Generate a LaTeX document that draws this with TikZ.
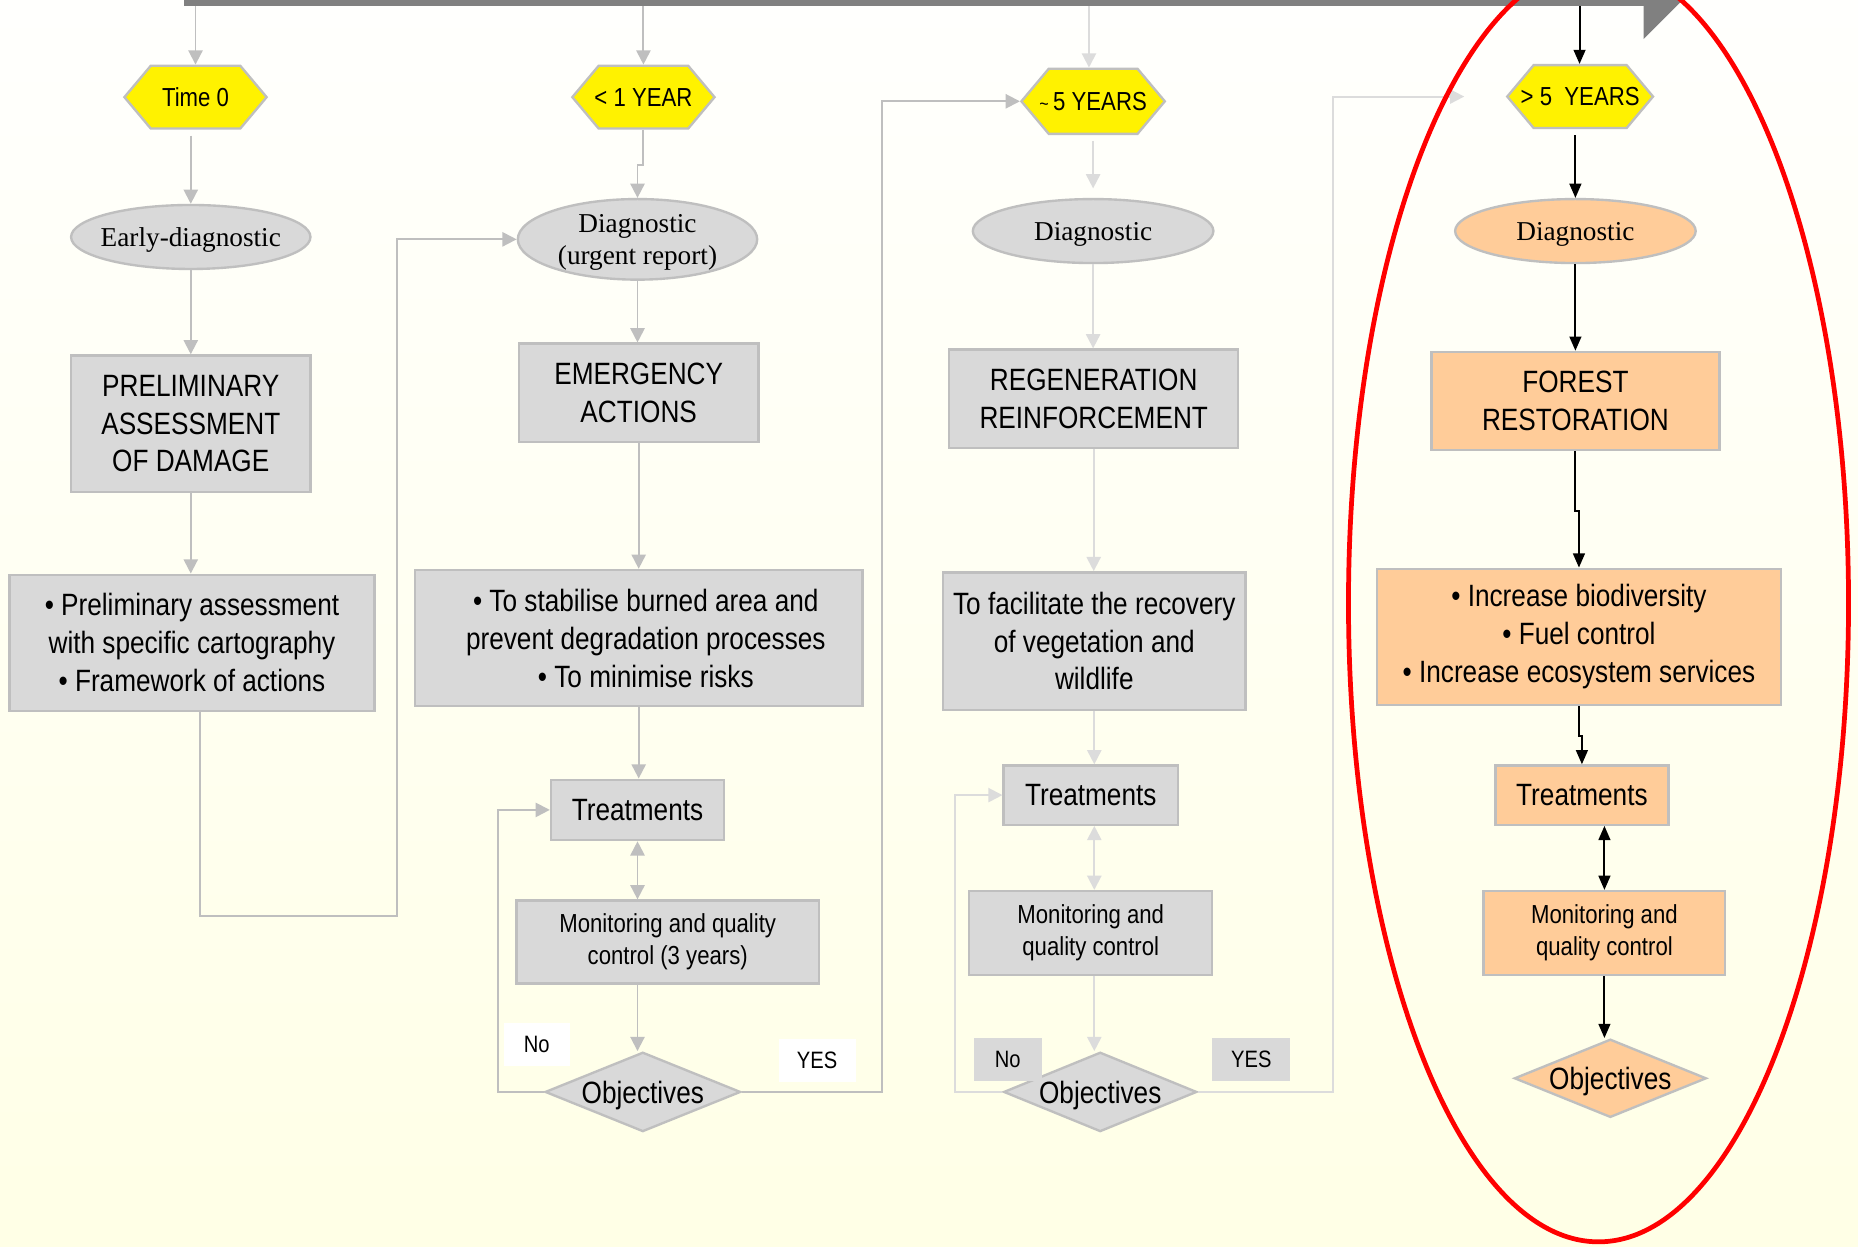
\documentclass[tikz,border=0pt]{standalone}
\usepackage{fontspec}
\setmainfont{Liberation Sans}[FakeStretch=0.85]
\newfontfamily\serifc{Liberation Serif}
\usetikzlibrary{shapes.geometric,shapes.symbols,arrows.meta}
\definecolor{boxgray}{HTML}{D9D9D9}
\definecolor{edgegray}{HTML}{BFBFBF}
\definecolor{lightline}{HTML}{DCDCDC}
\definecolor{peach}{HTML}{FFCC99}
\definecolor{bgbottom}{RGB}{255,255,230}
\definecolor{bgtop}{RGB}{255,255,253}
\definecolor{bartop}{HTML}{808080}
\tikzset{gtip/.tip={Triangle[width=6pt,length=6pt]}, btip/.tip={Triangle[width=5pt,length=6pt]}}
\newcommand{\hxt}[1]{\makebox[0pt]{#1}}
\begin{document}
\begin{tikzpicture}[x=0.5pt,y=-0.5pt,
 nodebase/.style={draw=edgegray, line width=1pt, inner sep=0pt, align=center, text=black},
 grayfill/.style={fill=boxgray},
 peachfill/.style={fill=peach},
 hexa/.style={nodebase, shape=signal, signal to=west and east, signal pointer angle=100, fill=yellow, font=\fontsize{11}{13}\selectfont},
 oval/.style={nodebase, ellipse, inner xsep=-4pt, text depth=0pt, font=\serifc\fontsize{11.5}{13.5}\selectfont},
 bigbox/.style={nodebase, rectangle, font=\fontsize{13}{16}\selectfont},
 smallbox/.style={nodebase, rectangle, font=\fontsize{11}{13.5}\selectfont},
 decision/.style={nodebase, diamond, aspect=2.4, text depth=0pt, font=\fontsize{13}{16}\selectfont},
 lbl/.style={rectangle, inner sep=0pt, align=center, font=\fontsize{10}{12}\selectfont},
 garr/.style={draw=edgegray, line width=0.8pt, -gtip},
 larr/.style={draw=lightline, line width=0.8pt, -gtip},
 barr/.style={draw=black, line width=0.8pt, -btip},
]
\useasboundingbox (0,0) rectangle (1568,1052);
\begin{scope}
\clip (0,0) rectangle (1568,1052);
\shade[top color=bgtop, bottom color=bgbottom] (0,0) rectangle (1568,1052);

% top time bar
\fill[bartop] (155,0) rectangle (1387,5);
\fill[bartop] (1387,0) -- (1387,33) -- (1420,0) -- cycle;
\coordinate (tb1) at (165,5);
\coordinate (tb2) at (543,5);
\coordinate (tb3) at (919,5);
\coordinate (tb4) at (1333,5);

% column 1
\node[hexa, minimum width=60pt, minimum height=26.5pt] (h1) at (165,82) {\hxt{Time 0}};
\node[oval, grayfill, minimum width=101pt, minimum height=27pt] (e1) at (161,200) {Early-diagnostic};
\node[bigbox, grayfill, minimum width=101pt, minimum height=57.5pt] (b1) at (161,357.5) {PRELIMINARY\\ASSESSMENT\\OF DAMAGE};
\node[bigbox, grayfill, minimum width=154pt, minimum height=57.5pt] (c1) at (162,542.5) {• Preliminary assessment\\ with specific cartography\\• Framework of actions};

% column 2
\node[hexa, minimum width=60pt, minimum height=26.5pt] (h2) at (543,82) {\hxt{< 1 YEAR}};
\node[oval, grayfill, minimum width=101pt, minimum height=34pt] (e2) at (538,202) {Diagnostic\\(urgent report)};
\node[bigbox, grayfill, minimum width=101pt, minimum height=41.5pt] (b2) at (539,331.5) {EMERGENCY\\ACTIONS};
\node[bigbox, grayfill, minimum width=189pt, minimum height=57.5pt] (c2) at (539,538.5) {\hspace*{6pt}• To stabilise burned area and\\\hspace*{6pt}prevent degradation processes\\\hspace*{6pt}• To minimise risks};
\node[bigbox, grayfill, minimum width=73pt, minimum height=25.5pt] (t2) at (538,683.5) {Treatments};
\node[smallbox, grayfill, minimum width=127.5pt, minimum height=35pt] (m2) at (563.5,795) {Monitoring and quality\\control (3 years)};
\node[decision, grayfill, minimum width=82.5pt, minimum height=33.5pt] (d2) at (542.5,921.5) {Objectives};
\node[lbl, fill=white, minimum width=28pt, minimum height=18.5pt] (no2) at (453,881.5) {No};
\node[lbl, fill=white, minimum width=32.5pt, minimum height=18pt] (yes2) at (689.5,895) {YES};

% column 3
\node[hexa, minimum width=60.5pt, minimum height=27.5pt] (h3) at (922.5,85.5) {\hxt{{\fontsize{8}{8}\selectfont\textasciitilde}\,5 YEARS}};
\node[oval, grayfill, minimum width=101.5pt, minimum height=27pt] (e3) at (922.5,195) {Diagnostic};
\node[bigbox, grayfill, minimum width=122pt, minimum height=41.5pt] (b3) at (923,336.5) {REGENERATION\\REINFORCEMENT};
\node[bigbox, grayfill, minimum width=127.5pt, minimum height=58pt] (c3) at (923.5,541) {To facilitate the recovery\\of vegetation and\\wildlife};
\node[bigbox, grayfill, minimum width=73.5pt, minimum height=25pt] (t3) at (920.5,671) {Treatments};
\node[smallbox, grayfill, minimum width=102.5pt, minimum height=35.5pt] (m3) at (920.5,787.5) {Monitoring and\\quality control};
\node[decision, grayfill, minimum width=81.5pt, minimum height=33.5pt] (d3) at (928.5,921.5) {Objectives};
\node[lbl, fill=boxgray, minimum width=28.5pt, minimum height=18pt] (no3) at (850.5,894) {No};
\node[lbl, fill=boxgray, minimum width=33pt, minimum height=18pt] (yes3) at (1056,894) {YES};

% column 4
\node[hexa, minimum width=61.5pt, minimum height=26.5pt] (h4) at (1333.5,81.5) {\hxt{> 5\ \ YEARS}};
\node[oval, peachfill, minimum width=101.5pt, minimum height=27pt] (e4) at (1329.5,195) {Diagnostic};
\node[bigbox, peachfill, minimum width=121.5pt, minimum height=41.5pt] (b4) at (1329.5,338.5) {FOREST\\RESTORATION};
\node[bigbox, peachfill, minimum width=170.5pt, minimum height=57.5pt] (c4) at (1332.5,537.5) {• Increase biodiversity\\• Fuel control\\• Increase ecosystem services};
\node[bigbox, peachfill, minimum width=73pt, minimum height=25pt] (t4) at (1335,671) {Treatments};
\node[smallbox, peachfill, minimum width=102pt, minimum height=35.5pt] (m4) at (1354,787.5) {Monitoring and\\quality control};
\node[decision, peachfill, minimum width=81pt, minimum height=33pt] (d4) at (1359,910) {Objectives};

% connectors column 1
\draw[garr] (tb1) -- (tb1 |- h1.north);
\draw[garr, shorten <=2.5pt] (e1.north |- h1.south) -- (e1.north);
\draw[garr] (e1.south) -- (e1.south |- b1.north);
\draw[garr] (b1.south) -- (b1.south |- c1.north);
\draw[garr] ([xshift=3.5pt]c1.south) |- (335,773) |- (e2.west);

% connectors column 2
\draw[garr] (tb2) -- (tb2 |- h2.north);
\draw[garr] (h2.south) -- ++(0,30) -| (e2.north);
\draw[garr] (e2.south) -- (e2.south |- b2.north);
\draw[garr] (b2.south) -- (b2.south |- c2.north);
\draw[garr] (c2.south) -- (c2.south |- t2.north);
\draw[garr, gtip-gtip] (t2.south) -- (t2.south |- m2.north);
\draw[garr] (t2.south |- m2.south) -- (t2.south |- d2.north);
\draw[garr] (d2.west) -- ++(-39,0) |- (t2.west);
\draw[garr] (d2.east) -- ++(118,0) |- (h3.west);

% connectors column 3
\draw[larr] (tb3) -- (tb3 |- h3.north);
\draw[larr, shorten <=2.5pt, shorten >=4pt] (h3.south) -- (h3.south |- e3.north);
\draw[larr] (e3.south) -- (e3.south |- b3.north);
\draw[larr] (b3.south) -- (b3.south |- c3.north);
\draw[larr] (c3.south) -- (c3.south |- t3.north);
\draw[larr, gtip-gtip] ([xshift=1.5pt]t3.south) -- ([xshift=1.5pt]t3.south |- m3.north);
\draw[larr] ([xshift=1.5pt]t3.south |- m3.south) -- ([xshift=1.5pt]t3.south |- d3.north);
\draw[larr] (d3.west) -- ++(-40,0) |- (t3.west);
\draw[larr, shorten >=17.5pt] (d3.east) -- ++(114,0) |- (h4.west);

% connectors column 4
\draw[barr] (tb4) -- (tb4 |- h4.north);
\draw[barr, shorten <=2.5pt] (e4.north |- h4.south) -- (e4.north);
\draw[barr] (e4.south) -- (e4.south |- b4.north);
\draw[barr] (b4.south) -- ++(0,50) -| (c4.north);
\draw[barr] (c4.south) -- ++(0,25) -| (t4.north);
\draw[barr, btip-btip] (m4.north |- t4.south) -- (m4.north);
\draw[barr] (m4.south) -- (m4.south |- d4.north);

% highlight
\draw[red, line width=2pt] (1349,509) ellipse [x radius=211, y radius=539];
\end{scope}
\end{tikzpicture}
\end{document}
